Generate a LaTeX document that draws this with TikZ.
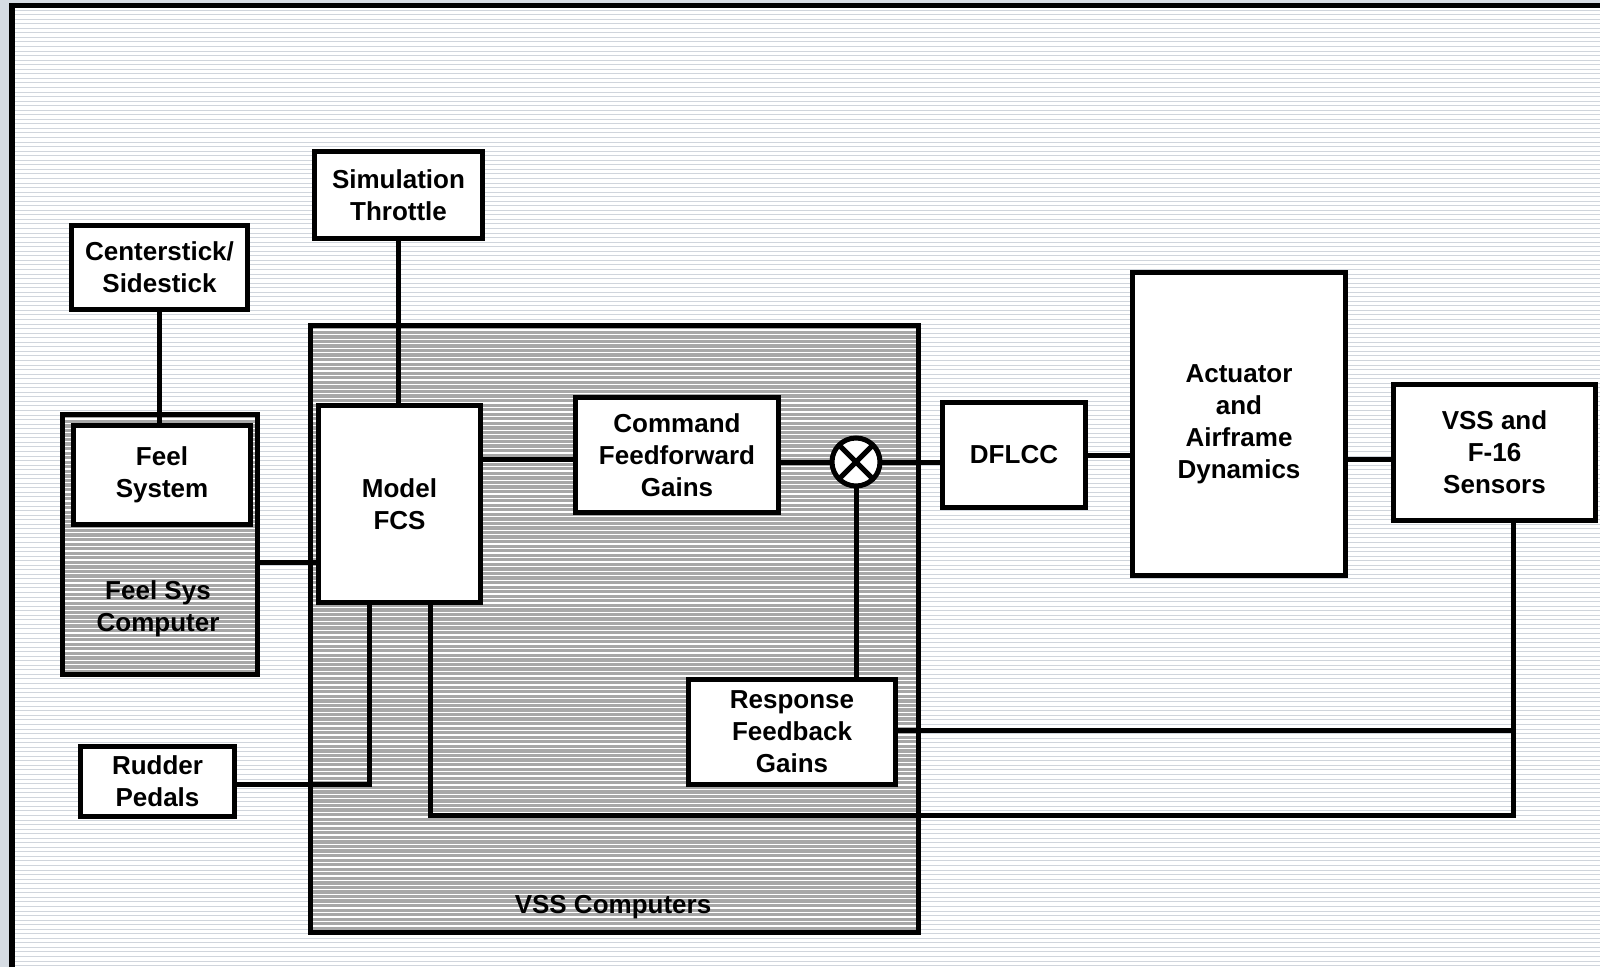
\documentclass[tikz,border=0pt]{standalone}
\usepackage{fontspec}
\setmainfont{Liberation Sans}
\usepackage{xcolor}
\definecolor{frameblue}{RGB}{214, 220, 227}
\definecolor{rulegrey}{RGB}{208, 213, 220}
\definecolor{boxgrey}{RGB}{167, 167, 167}
\usepackage{tikz}
\usetikzlibrary{
    positioning,
    calc
}

\begin{document}
\begin{tikzpicture}[
    x=1pt, y=-1pt,
    every text node part/.style={align=center},
    stripes/.style 2 args={path picture={
        \foreach \k in {0,...,212}
            \draw[#1, line width=#2]
                ([yshift=-4.55*\k pt]path picture bounding box.north west) --
                ([yshift=-4.55*\k pt]path picture bounding box.north east);
    }},
    block/.style={draw=black, line width=5pt, fill=white, inner sep=2pt, outer sep=0pt,
        font=\fontsize{26}{32}\selectfont\bfseries},
    grpbox/.style={block, fill=boxgrey, stripes={white}{1.3pt}},
    grouptitle/.style={inner sep=0pt, font=\fontsize{26}{32}\selectfont\bfseries},
    wire/.style={draw=black, line width=5pt},
    junction/.style={circle, draw=black, line width=5pt, fill=white, minimum size=48pt,
        inner sep=0pt, outer sep=0pt,
        path picture={
            \draw[line width=5pt]
                (path picture bounding box.north west) -- (path picture bounding box.south east)
                (path picture bounding box.north east) -- (path picture bounding box.south west);
        }}
]
\useasboundingbox (0,0) rectangle (1600,967);

% ==================== BACKGROUND ====================
\fill[frameblue] (0,0) rectangle (1600,967);
\path[fill=white, stripes={rulegrey}{0.9pt}] (12,5.5) rectangle (1600,967);
\draw[line width=5.5pt] (12,967) -- (12,5.5) -- (1600,5.5);

% ==================== COMPUTERS ====================
\node[grpbox, minimum width=608pt, minimum height=607pt] (vss) at (614.5,629) {};
\node[grouptitle] (vsstitle) at (613,907) {VSS Computers};

\node[grpbox, minimum width=195pt, minimum height=260pt] (feelcomp) at (160,544.5) {};
\node[grouptitle] (feeltitle) at (158,609) {Feel Sys\\Computer};

% ==================== PILOT INPUTS ====================
\node[block, minimum width=168pt, minimum height=87pt] (throttle) at (398.5,195) {Simulation\\Throttle};
\node[block, minimum width=176pt, minimum height=84pt] (stick) at (159.5,267.5) {Centerstick/\\Sidestick};
\node[block, minimum width=177pt, minimum height=99pt] (feel) at (162,475) {Feel\\System};
\node[block, minimum width=154pt, minimum height=70pt] (rudder) at (157.5,781.5) {Rudder\\Pedals};

% ==================== VSS LOOP ====================
\node[block, minimum width=162pt, minimum height=197pt] (fcs) at (399.5,504) {Model\\FCS};
\node[block, minimum width=203pt, minimum height=115pt] (cmdff) at (677,455) {Command\\Feedforward\\Gains};
\node[junction] (sum) at (856,462) {};
\node[block, minimum width=207pt, minimum height=105pt] (resp) at (792,731.5) {Response\\Feedback\\Gains};

% ==================== AIRCRAFT ====================
\node[block, minimum width=213pt, minimum height=303pt] (act) at (1239,424) {Actuator\\and\\Airframe\\Dynamics};
\node[block, minimum width=143pt, minimum height=105pt, left=47pt of act, yshift=-31pt] (dflcc) {DFLCC};
\node[block, minimum width=202pt, minimum height=136pt, right=48pt of act, yshift=-28.5pt] (sensors) {VSS and\\F-16\\Sensors};

% ==================== CONNECTIONS ====================
\draw[wire] (throttle.south) -- (throttle.south |- fcs.north);
\draw[wire] (stick.south) -- (stick.south |- feel.north);
\draw[wire] ([yshift=-17.5pt]feelcomp.east) -- ([yshift=-17.5pt]feelcomp.east -| fcs.west);
\draw[wire] ([yshift=-4pt]cmdff.west -| fcs.east) -- ([yshift=-4pt]cmdff.west);
\draw[wire] (sum.west -| cmdff.east) -- (sum.west);
\draw[wire] (sum.east) -- (sum.east -| dflcc.west);
\draw[wire] (dflcc.east) -- (dflcc.east -| act.west);
\draw[wire] ([yshift=-7pt]sensors.west -| act.east) -- ([yshift=-7pt]sensors.west);
\draw[wire] (sum.south) -- (sum.south |- resp.north);

\coordinate (tap) at (1513.5,815.5);
\draw[wire] (tap |- sensors.south) -- (tap) -| ([xshift=31pt]fcs.south);
\draw[wire] ([yshift=1pt]resp.east) -- ([yshift=1pt]resp.east -| tap);
\draw[wire] ([yshift=-3pt]rudder.east) -| ([xshift=-30pt]fcs.south);

\end{tikzpicture}
\end{document}
